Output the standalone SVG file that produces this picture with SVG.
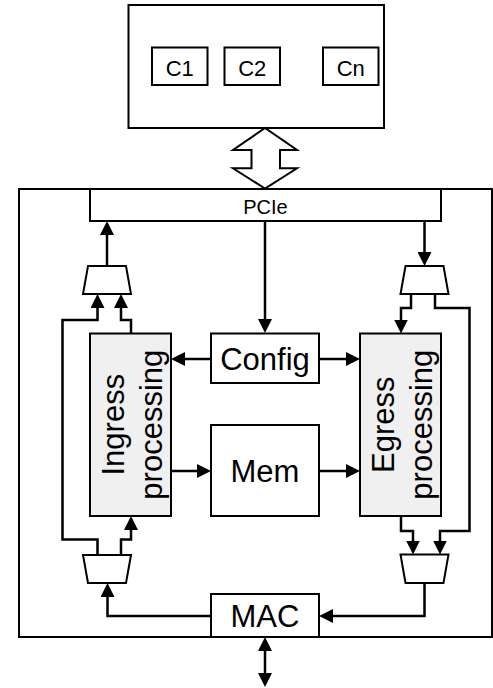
<svg xmlns="http://www.w3.org/2000/svg" width="493" height="688" viewBox="0 0 493 688">
<defs>
<marker id="ah" viewBox="0 0 14 14" markerUnits="userSpaceOnUse" markerWidth="14" markerHeight="14" refX="10" refY="7" orient="auto-start-reverse">
<path d="M0,0 L14,7 L0,14 z" fill="#000"/>
</marker>
<style>
.box{fill:#fff;stroke:#000;stroke-width:2}
.proc{fill:#f0f0f0;stroke:#000;stroke-width:2}
.mux{fill:#fff;stroke:#000;stroke-width:2}
.c{fill:none;stroke:#000;stroke-width:2.5}
.a{marker-end:url(#ah)}
.t{font-family:"Liberation Sans",Arial,sans-serif;fill:#000;text-anchor:middle}
.big{font-size:31px}
.sm{font-size:22px}
</style>
</defs>
<rect width="493" height="688" fill="#fff"/>
<g id="host">
<rect class="box" x="128.5" y="5" width="255.5" height="123"/>
</g>
<g id="c1"><rect class="box" x="152" y="47.5" width="55.5" height="37.5" stroke-width="1.5"/><text class="t sm" x="179.7" y="76">C1</text></g>
<g id="c2"><rect class="box" x="224.5" y="47.5" width="55.5" height="37.5" stroke-width="1.5"/><text class="t sm" x="252.2" y="76">C2</text></g>
<g id="cn"><rect class="box" x="323" y="47.5" width="55.5" height="37.5" stroke-width="1.5"/><text class="t sm" x="350.7" y="76">Cn</text></g>
<g id="board">
<rect x="19" y="189" width="473" height="448" fill="none" stroke="#000" stroke-width="2"/>
</g>
<g id="pcie"><rect class="box" x="90" y="189" width="351" height="32"/><text class="t" font-size="20" x="265.5" y="214">PCIe</text></g>
<g id="ingress"><rect class="proc" x="90" y="333.5" width="81" height="182.5"/>
<text class="t big" transform="translate(123.5,424.7) rotate(-90)" x="0" y="0">Ingress</text>
<text class="t big" transform="translate(161.8,424.7) rotate(-90)" x="0" y="0">processing</text></g>
<g id="egress"><rect class="proc" x="360" y="333.5" width="81" height="182.5"/>
<text class="t big" transform="translate(393.5,424.7) rotate(-90)" x="0" y="0">Egress</text>
<text class="t big" transform="translate(431.8,424.7) rotate(-90)" x="0" y="0">processing</text></g>
<g id="config"><rect class="box" x="211" y="333.5" width="108" height="49.5"/><text class="t big" x="265" y="370">Config</text></g>
<g id="mem"><rect class="box" x="211" y="425" width="108" height="91"/><text class="t big" x="265" y="481.7">Mem</text></g>
<g id="mac"><rect class="box" x="211" y="594" width="108" height="43"/><text class="t big" x="265" y="626.7">MAC</text></g>
<g id="mux-tl"><polygon class="mux" points="88,266 126,266 131,294 83,294"/></g>
<g id="mux-tr"><polygon class="mux" points="405.5,266 443.5,266 448.5,294 400.5,294"/></g>
<g id="mux-bl"><polygon class="mux" points="83,555 131,555 126,583 88,583"/></g>
<g id="mux-br"><polygon class="mux" points="400.5,554.5 448.5,554.5 443.5,583 405.5,583"/></g>
<g id="connectors">
<polygon points="265,128 233,150 251.5,150 251.5,168.3 233,168.3 265,188.5 297,168.3 280,168.3 280,150 297,150" fill="#fff" stroke="#000" stroke-width="2" stroke-linejoin="miter"/>
<path class="c a" d="M265,221 V329"/>
<path class="c a" d="M211,359 H175"/>
<path class="c a" d="M319,359 H356"/>
<path class="c a" d="M171,471 H207"/>
<path class="c a" d="M319,471 H356"/>
<path class="c a" d="M107,266 V225"/>
<path class="c a" d="M131,333.5 V320 H121 V298"/>
<path class="c a" d="M97.5,555 V539.5 H62.5 V320 H97.5 V298"/>
<path class="c a" d="M121,555 V539.5 H131 V520"/>
<path class="c a" d="M211,616 H107.5 V587"/>
<path class="c a" d="M424.5,221 V262"/>
<path class="c a" d="M411,294 V308 H401 V329.5"/>
<path class="c a" d="M435,294 V308 H469.5 V531 H440 V550.5"/>
<path class="c a" d="M401,516 V531 H413 V550.5"/>
<path class="c a" d="M424.5,583 V616 H323"/>
<path class="c" d="M265,641 V683" marker-start="url(#ah)" marker-end="url(#ah)"/>
</g>
</svg>
